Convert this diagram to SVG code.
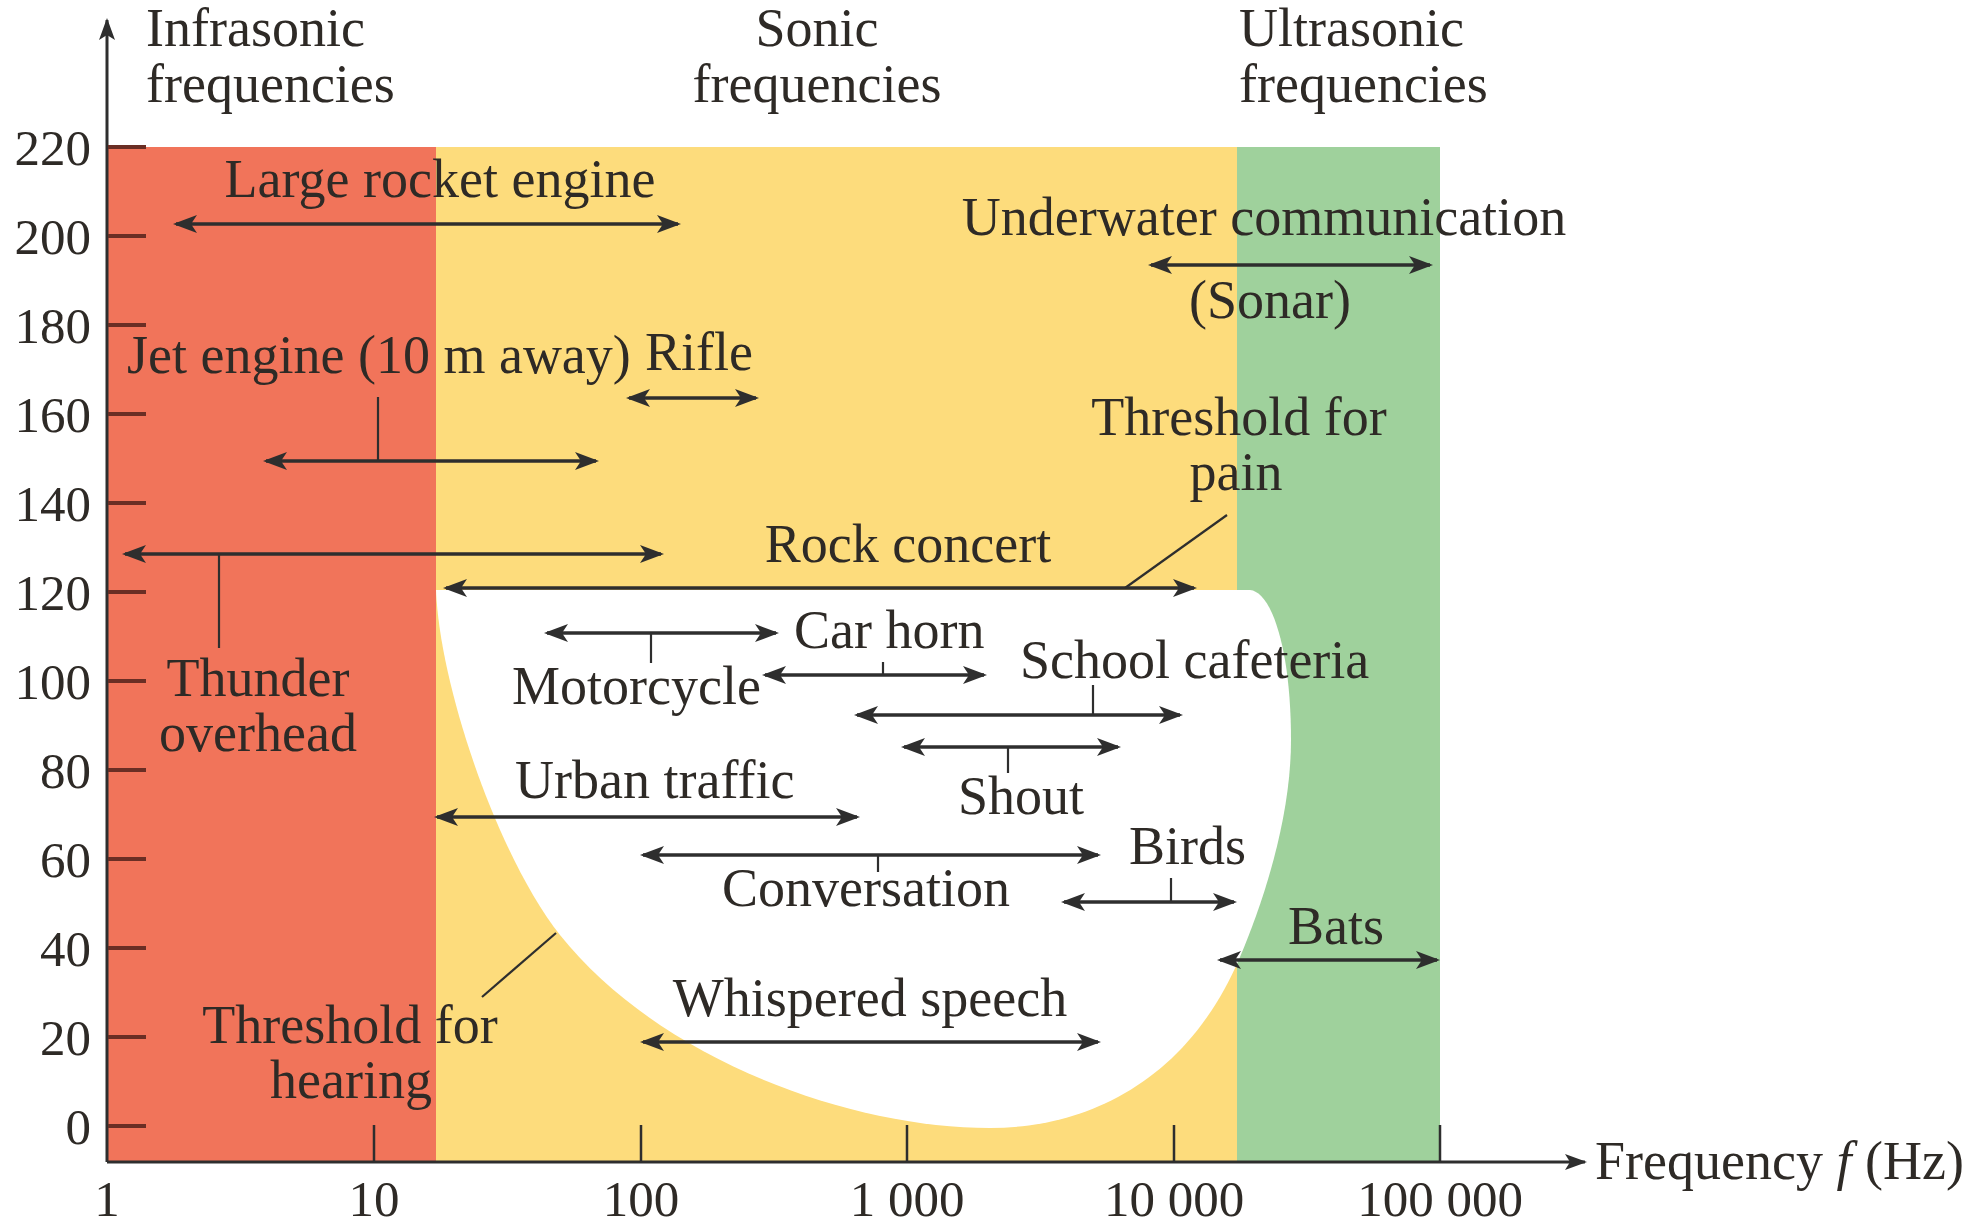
<svg xmlns="http://www.w3.org/2000/svg" width="1983" height="1227" viewBox="0 0 1983 1227">
<style>
text{font-family:"Liberation Serif","Times New Roman",serif;font-size:54px;fill:#2e2a26}
.n{font-size:51px}
.m{text-anchor:middle}
.e{text-anchor:end}
.arr{stroke:#2e2e2e;stroke-width:3.5;fill:none;marker-start:url(#ah);marker-end:url(#ah)}
.ld{stroke:#2e2e2e;stroke-width:2.2;fill:none}
.ax{stroke:#2e2e2e;stroke-width:3;fill:none}
.yt{stroke:#6a2e24;stroke-width:4}
.xt{stroke:#2e2e2e;stroke-width:2.5}
</style>
<defs>
<marker id="ah" viewBox="0 0 24 18" refX="21" refY="9" markerWidth="24" markerHeight="18" markerUnits="userSpaceOnUse" orient="auto-start-reverse">
<path d="M0,0 L24,9 L0,18 L6,9 Z" fill="#2e2e2e"/>
</marker>
<marker id="axh" viewBox="0 0 22 16" refX="20" refY="8" markerWidth="22" markerHeight="16" markerUnits="userSpaceOnUse" orient="auto">
<path d="M0,0 L22,8 L0,16 L5,8 Z" fill="#2e2e2e"/>
</marker>
</defs>
<rect width="1983" height="1227" fill="#ffffff"/>
<g id="bands">
<rect x="107" y="147" width="329" height="1015" fill="#F1745A"/>
<rect x="436" y="147" width="801" height="1015" fill="#FDDC7C"/>
<rect x="1237" y="147" width="203" height="1015" fill="#9FD19C"/>
<path id="audible" d="M436 590 L1250 590 C1272 592 1291 650 1291 740 C1291 820 1262 905 1240 957 C1185 1087 1080 1128 990 1128 C850 1128 660 1060 560 935 C500 860 440 690 436 590 Z" fill="#ffffff"/>
</g>
<g id="axes">
<line class="ax" x1="107" y1="1162" x2="107" y2="20" marker-end="url(#axh)"/>
<line class="ax" x1="107" y1="1162" x2="1585" y2="1162" marker-end="url(#axh)"/>
<g id="yticks">
<line class="yt" x1="108" y1="147" x2="146" y2="147"/>
<line class="yt" x1="108" y1="236" x2="146" y2="236"/>
<line class="yt" x1="108" y1="325" x2="146" y2="325"/>
<line class="yt" x1="108" y1="414" x2="146" y2="414"/>
<line class="yt" x1="108" y1="503" x2="146" y2="503"/>
<line class="yt" x1="108" y1="592" x2="146" y2="592"/>
<line class="yt" x1="108" y1="681" x2="146" y2="681"/>
<line class="yt" x1="108" y1="770" x2="146" y2="770"/>
<line class="yt" x1="108" y1="859" x2="146" y2="859"/>
<line class="yt" x1="108" y1="948" x2="146" y2="948"/>
<line class="yt" x1="108" y1="1037" x2="146" y2="1037"/>
<line class="yt" x1="108" y1="1126" x2="146" y2="1126"/>
</g>
<g id="xticks">
<line class="xt" x1="374" y1="1162" x2="374" y2="1125"/>
<line class="xt" x1="641" y1="1162" x2="641" y2="1125"/>
<line class="xt" x1="907" y1="1162" x2="907" y2="1125"/>
<line class="xt" x1="1174" y1="1162" x2="1174" y2="1125"/>
<line class="xt" x1="1440" y1="1162" x2="1440" y2="1125"/>
</g>
<g id="ylabels">
<text class="e n" x="91" y="165">220</text>
<text class="e n" x="91" y="254">200</text>
<text class="e n" x="91" y="343">180</text>
<text class="e n" x="91" y="432">160</text>
<text class="e n" x="91" y="521">140</text>
<text class="e n" x="91" y="610">120</text>
<text class="e n" x="91" y="699">100</text>
<text class="e n" x="91" y="788">80</text>
<text class="e n" x="91" y="877">60</text>
<text class="e n" x="91" y="966">40</text>
<text class="e n" x="91" y="1055">20</text>
<text class="e n" x="91" y="1144">0</text>
</g>
<g id="xlabels">
<text class="m n" x="107" y="1216">1</text>
<text class="m n" x="374" y="1216">10</text>
<text class="m n" x="641" y="1216">100</text>
<text class="m n" x="907" y="1216">1 000</text>
<text class="m n" x="1174" y="1216">10 000</text>
<text class="m n" x="1440" y="1216">100 000</text>
</g>
<text id="xtitle" x="1595" y="1179">Frequency <tspan font-style="italic">f</tspan> (Hz)</text>
</g>
<g id="headers">
<g id="infrasonic"><text x="146" y="46">Infrasonic</text><text x="146" y="102">frequencies</text></g>
<g id="sonic"><text class="m" x="817" y="46">Sonic</text><text class="m" x="817" y="102">frequencies</text></g>
<g id="ultrasonic"><text x="1239" y="46">Ultrasonic</text><text x="1239" y="102">frequencies</text></g>
</g>
<g id="connectors">
<line class="arr" x1="176" y1="224" x2="678" y2="224"/>
<line class="arr" x1="1151" y1="265" x2="1430" y2="265"/>
<line class="arr" x1="629" y1="398" x2="756" y2="398"/>
<line class="arr" x1="266" y1="461" x2="596" y2="461"/>
<line class="ld" x1="378" y1="397" x2="378" y2="461"/>
<line class="arr" x1="125" y1="554" x2="661" y2="554"/>
<line class="ld" x1="219" y1="554" x2="219" y2="648"/>
<line class="arr" x1="446" y1="588" x2="1194" y2="588"/>
<line class="ld" x1="1227" y1="515" x2="1125" y2="588"/>
<line class="arr" x1="547" y1="633" x2="776" y2="633"/>
<line class="ld" x1="651" y1="633" x2="651" y2="663"/>
<line class="arr" x1="765" y1="675" x2="984" y2="675"/>
<line class="ld" x1="883" y1="662" x2="883" y2="675"/>
<line class="arr" x1="857" y1="715" x2="1180" y2="715"/>
<line class="ld" x1="1093" y1="685" x2="1093" y2="715"/>
<line class="arr" x1="904" y1="747" x2="1118" y2="747"/>
<line class="ld" x1="1008" y1="747" x2="1008" y2="773"/>
<line class="arr" x1="437" y1="817" x2="857" y2="817"/>
<line class="arr" x1="643" y1="855" x2="1098" y2="855"/>
<line class="ld" x1="878" y1="855" x2="878" y2="872"/>
<line class="arr" x1="1064" y1="902" x2="1234" y2="902"/>
<line class="ld" x1="1171" y1="878" x2="1171" y2="902"/>
<line class="arr" x1="1220" y1="960" x2="1437" y2="960"/>
<line class="arr" x1="643" y1="1042" x2="1098" y2="1042"/>
<line class="ld" x1="482" y1="997" x2="556" y2="933"/>
</g>
<g id="labels">
<g id="rocket"><text class="m" x="440" y="197">Large rocket engine</text></g>
<g id="sonar"><text class="m" x="1264" y="235">Underwater communication</text><text class="m" x="1270" y="318">(Sonar)</text></g>
<g id="rifle"><text x="645" y="370">Rifle</text></g>
<g id="jet"><text x="127" y="373">Jet engine (10 m away)</text></g>
<g id="pain"><text class="m" x="1239" y="435">Threshold for</text><text class="m" x="1236" y="490">pain</text></g>
<g id="rock"><text class="m" x="908" y="562">Rock concert</text></g>
<g id="thunder"><text class="m" x="258" y="696">Thunder</text><text class="m" x="258" y="751">overhead</text></g>
<g id="motorcycle"><text x="512" y="704">Motorcycle</text></g>
<g id="carhorn"><text x="794" y="648">Car horn</text></g>
<g id="cafeteria"><text x="1020" y="678">School cafeteria</text></g>
<g id="shout"><text class="m" x="1021" y="814">Shout</text></g>
<g id="urban"><text x="515" y="798">Urban traffic</text></g>
<g id="birds"><text x="1129" y="864">Birds</text></g>
<g id="conversation"><text class="m" x="866" y="906">Conversation</text></g>
<g id="bats"><text x="1288" y="944">Bats</text></g>
<g id="whisper"><text class="m" x="870" y="1016">Whispered speech</text></g>
<g id="hearing"><text class="m" x="350" y="1043">Threshold for</text><text class="m" x="351" y="1098">hearing</text></g>
</g>
</svg>
